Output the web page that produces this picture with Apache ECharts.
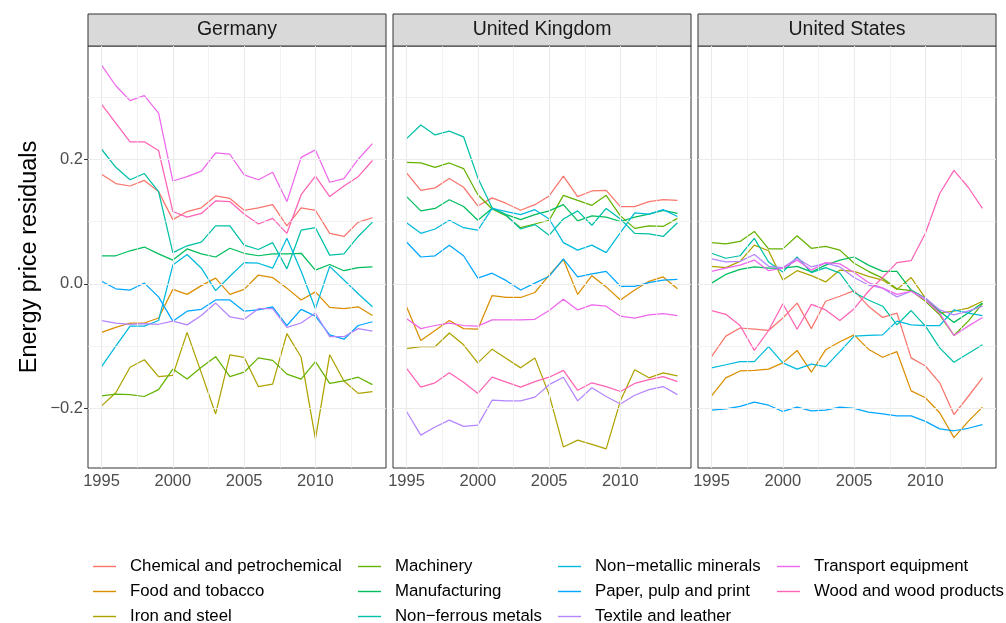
<!DOCTYPE html>
<html>
<head>
<meta charset="utf-8">
<script src="https://cdn.jsdelivr.net/npm/echarts@6/dist/echarts.min.js"></script>
<style>
  html, body { margin: 0; padding: 0; background: #ffffff; }
  #chart { width: 1006px; height: 623px; }
</style>
</head>
<body>
<div id="chart"></div>
<script>
// ---- data -----------------------------------------------------------
const years = [1995, 1996, 1997, 1998, 1999, 2000, 2001, 2002, 2003, 2004,
               2005, 2006, 2007, 2008, 2009, 2010, 2011, 2012, 2013, 2014];

const countries = ['Germany', 'United Kingdom', 'United States'];

const industries = [
  'Chemical and petrochemical', 'Food and tobacco', 'Iron and steel',
  'Machinery', 'Manufacturing', 'Non\u2212ferrous metals',
  'Non\u2212metallic minerals', 'Paper, pulp and print', 'Textile and leather',
  'Transport equipment', 'Wood and wood products'
];

const palette = ['#F8766D', '#DB8E00', '#AEA200', '#64B200', '#00BD5C', '#00C1A7',
                 '#00BADE', '#00A6FF', '#B385FF', '#EF67EB', '#FF63B6'];

// Germany
const deChemical      = [0.176, 0.161, 0.157, 0.166, 0.148, 0.103, 0.116, 0.122, 0.141, 0.137, 0.118, 0.122, 0.127, 0.093, 0.122, 0.118, 0.081, 0.076, 0.099, 0.106];
const deFood          = [-0.078, -0.070, -0.063, -0.063, -0.055, -0.009, -0.017, -0.003, 0.009, -0.017, -0.009, 0.014, 0.010, -0.007, -0.026, -0.013, -0.038, -0.040, -0.037, -0.051];
const deIron          = [-0.196, -0.175, -0.134, -0.122, -0.149, -0.147, -0.078, -0.143, -0.209, -0.114, -0.118, -0.165, -0.161, -0.080, -0.118, -0.249, -0.114, -0.156, -0.176, -0.173];
const deMachinery     = [-0.180, -0.177, -0.178, -0.181, -0.170, -0.137, -0.153, -0.134, -0.117, -0.149, -0.142, -0.119, -0.123, -0.145, -0.153, -0.125, -0.160, -0.156, -0.150, -0.162];
const deManufacturing = [0.045, 0.045, 0.053, 0.059, 0.048, 0.038, 0.056, 0.048, 0.043, 0.057, 0.049, 0.045, 0.048, 0.048, 0.049, 0.022, 0.031, 0.021, 0.026, 0.027];
const deNonFerrous    = [0.216, 0.187, 0.167, 0.177, 0.148, 0.050, 0.061, 0.067, 0.093, 0.093, 0.062, 0.055, 0.066, 0.024, 0.086, 0.090, 0.046, 0.048, 0.076, 0.099];
const deNonMetallic   = [-0.133, -0.100, -0.068, -0.068, -0.059, 0.030, 0.047, 0.025, -0.011, 0.012, 0.034, 0.033, 0.025, 0.073, 0.020, -0.040, 0.028, 0.006, -0.016, -0.037];
const dePaper         = [0.004, -0.008, -0.010, 0.001, -0.021, -0.060, -0.044, -0.041, -0.026, -0.026, -0.044, -0.042, -0.037, -0.067, -0.041, -0.052, -0.082, -0.089, -0.067, -0.061];
const deTextile       = [-0.059, -0.063, -0.065, -0.064, -0.065, -0.060, -0.066, -0.051, -0.031, -0.053, -0.057, -0.040, -0.040, -0.070, -0.063, -0.047, -0.085, -0.085, -0.072, -0.076];
const deTransport     = [0.351, 0.318, 0.294, 0.302, 0.274, 0.165, 0.172, 0.181, 0.210, 0.208, 0.175, 0.167, 0.179, 0.132, 0.203, 0.215, 0.163, 0.169, 0.200, 0.225];
const deWood          = [0.288, 0.258, 0.228, 0.228, 0.214, 0.116, 0.107, 0.113, 0.133, 0.132, 0.112, 0.096, 0.105, 0.081, 0.143, 0.173, 0.140, 0.157, 0.172, 0.198];

// United Kingdom
const ukChemical      = [0.178, 0.150, 0.154, 0.169, 0.155, 0.125, 0.138, 0.129, 0.118, 0.127, 0.141, 0.173, 0.140, 0.149, 0.150, 0.124, 0.124, 0.132, 0.135, 0.134];
const ukFood          = [-0.037, -0.091, -0.075, -0.059, -0.072, -0.073, -0.019, -0.022, -0.022, -0.014, 0.014, 0.039, -0.017, 0.013, -0.005, -0.026, -0.010, 0.004, 0.011, -0.008];
const ukIron          = [-0.104, -0.101, -0.101, -0.079, -0.098, -0.127, -0.105, -0.120, -0.135, -0.119, -0.178, -0.262, -0.251, -0.258, -0.265, -0.188, -0.138, -0.151, -0.143, -0.148];
const ukMachinery     = [0.195, 0.194, 0.187, 0.194, 0.185, 0.143, 0.120, 0.109, 0.090, 0.096, 0.102, 0.142, 0.134, 0.126, 0.142, 0.109, 0.089, 0.093, 0.092, 0.105];
const ukManufacturing = [0.140, 0.117, 0.121, 0.135, 0.124, 0.102, 0.121, 0.111, 0.103, 0.111, 0.117, 0.127, 0.101, 0.109, 0.107, 0.100, 0.107, 0.112, 0.118, 0.113];
const ukNonFerrous    = [0.233, 0.255, 0.239, 0.245, 0.236, 0.170, 0.122, 0.110, 0.088, 0.095, 0.078, 0.104, 0.117, 0.094, 0.121, 0.104, 0.081, 0.080, 0.076, 0.098];
const ukNonMetallic   = [0.098, 0.081, 0.088, 0.102, 0.090, 0.086, 0.121, 0.116, 0.111, 0.119, 0.104, 0.066, 0.054, 0.062, 0.050, 0.082, 0.114, 0.112, 0.119, 0.108];
const ukPaper         = [0.067, 0.043, 0.045, 0.062, 0.045, 0.009, 0.017, 0.005, -0.010, 0.001, 0.012, 0.040, 0.011, 0.016, 0.020, -0.004, -0.004, 0.002, 0.006, 0.007];
const ukTextile       = [-0.205, -0.243, -0.230, -0.219, -0.229, -0.227, -0.187, -0.188, -0.188, -0.182, -0.162, -0.150, -0.188, -0.167, -0.181, -0.193, -0.179, -0.170, -0.165, -0.178];
const ukTransport     = [-0.056, -0.072, -0.067, -0.063, -0.067, -0.068, -0.058, -0.058, -0.058, -0.057, -0.043, -0.025, -0.042, -0.034, -0.036, -0.052, -0.055, -0.050, -0.048, -0.051];
const ukWood          = [-0.136, -0.166, -0.159, -0.143, -0.158, -0.176, -0.150, -0.158, -0.166, -0.157, -0.150, -0.139, -0.171, -0.159, -0.165, -0.173, -0.160, -0.154, -0.149, -0.157];

// United States
const usChemical      = [-0.117, -0.084, -0.071, -0.073, -0.075, -0.055, -0.031, -0.072, -0.028, -0.020, -0.011, -0.036, -0.054, -0.047, -0.119, -0.132, -0.159, -0.210, -0.181, -0.151];
const usFood          = [-0.180, -0.151, -0.140, -0.139, -0.137, -0.127, -0.107, -0.142, -0.106, -0.093, -0.082, -0.105, -0.118, -0.109, -0.172, -0.183, -0.207, -0.247, -0.221, -0.198];
const usIron          = [0.028, 0.026, 0.036, 0.062, 0.053, 0.006, 0.021, 0.013, 0.003, 0.022, 0.020, 0.012, 0.006, -0.009, 0.010, -0.023, -0.047, -0.044, -0.039, -0.028];
const usMachinery     = [0.066, 0.064, 0.068, 0.084, 0.056, 0.056, 0.077, 0.057, 0.060, 0.054, 0.033, 0.020, 0.009, -0.008, -0.011, -0.028, -0.050, -0.083, -0.060, -0.032];
const usManufacturing = [0.001, 0.015, 0.023, 0.027, 0.025, 0.025, 0.028, 0.019, 0.030, 0.038, 0.043, 0.030, 0.020, 0.020, -0.010, -0.023, -0.044, -0.062, -0.047, -0.031];
const usNonFerrous    = [0.049, 0.041, 0.045, 0.073, 0.035, 0.019, 0.043, 0.018, 0.026, 0.017, -0.014, -0.026, -0.036, -0.066, -0.043, -0.068, -0.103, -0.126, -0.112, -0.098];
const usNonMetallic   = [-0.135, -0.130, -0.125, -0.125, -0.101, -0.127, -0.137, -0.129, -0.133, -0.109, -0.084, -0.083, -0.082, -0.060, -0.066, -0.067, -0.067, -0.042, -0.047, -0.051];
const usPaper         = [-0.203, -0.201, -0.197, -0.190, -0.195, -0.205, -0.198, -0.204, -0.203, -0.198, -0.200, -0.206, -0.209, -0.212, -0.212, -0.221, -0.233, -0.236, -0.232, -0.226];
const usTextile       = [0.040, 0.035, 0.036, 0.047, 0.028, 0.026, 0.041, 0.027, 0.033, 0.027, 0.010, -0.002, -0.007, -0.021, -0.012, -0.023, -0.042, -0.050, -0.044, -0.036];
const usTransport     = [0.020, 0.025, 0.030, 0.038, 0.021, 0.025, 0.038, 0.022, 0.034, 0.032, 0.018, 0.002, -0.007, -0.017, -0.012, -0.026, -0.047, -0.083, -0.068, -0.054];
const usWood          = [-0.043, -0.049, -0.067, -0.107, -0.075, -0.032, -0.073, -0.033, -0.042, -0.059, -0.040, -0.012, 0.010, 0.034, 0.037, 0.081, 0.145, 0.182, 0.155, 0.121];

const xBreaks = [1995, 2000, 2005, 2010];
const xMinorBreaks = [1997.5, 2002.5, 2007.5, 2012.5];
const yBreaks = [-0.2, 0, 0.2];
const yMinorBreaks = [-0.3, -0.1, 0.1, 0.3];

// one list per facet, in the same order as `industries`
const panelSeries = [
  [deChemical, deFood, deIron, deMachinery, deManufacturing, deNonFerrous, deNonMetallic, dePaper, deTextile, deTransport, deWood],
  [ukChemical, ukFood, ukIron, ukMachinery, ukManufacturing, ukNonFerrous, ukNonMetallic, ukPaper, ukTextile, ukTransport, ukWood],
  [usChemical, usFood, usIron, usMachinery, usManufacturing, usNonFerrous, usNonMetallic, usPaper, usTextile, usTransport, usWood]
];

// ---- layout -----------------------------------------------------------
const FONT = "'Liberation Sans', Arial, Helvetica, sans-serif";
const panelLeft = [88, 393, 698];
const panelWidth = 298;
const panelTop = 46;
const panelHeight = 422;
const stripTop = 14;
const stripHeight = 32;

// shared scales: data range padded by 5% on each side
const allValues = panelSeries.flat(2);
const lo = Math.min(...allValues), hi = Math.max(...allValues);
const yPad = (hi - lo) * 0.05;
const yMin = lo - yPad, yMax = hi + yPad;
const xPad = (years[years.length - 1] - years[0]) * 0.05;
const xMin = years[0] - xPad, xMax = years[years.length - 1] + xPad;

const fmtY = v => {
  const s = Math.abs(v).toFixed(1);
  return v < -1e-9 ? '\u2212' + s : s;
};

const grids = [], xAxes = [], yAxes = [], series = [], graphics = [];

countries.forEach((country, i) => {
  grids.push({
    left: panelLeft[i], top: panelTop, width: panelWidth, height: panelHeight,
    show: true, borderColor: '#333333', borderWidth: 1, backgroundColor: '#ffffff',
    containLabel: false
  });

  xAxes.push({
    type: 'value', gridIndex: i, min: xMin, max: xMax,
    axisLine: { show: false },
    splitLine: { show: false },
    axisTick: { show: true, length: 4, customValues: xBreaks, lineStyle: { color: '#333333', width: 1 } },
    axisLabel: {
      customValues: xBreaks, color: '#4D4D4D', fontSize: 16.5, fontFamily: FONT, margin: 5,
      formatter: v => String(v)
    }
  });

  yAxes.push({
    type: 'value', gridIndex: i, min: yMin, max: yMax,
    axisLine: { show: false },
    splitLine: { show: false },
    axisTick: { show: i === 0, length: 4, customValues: yBreaks, lineStyle: { color: '#333333', width: 1 } },
    axisLabel: {
      show: i === 0, customValues: yBreaks, color: '#4D4D4D', fontSize: 16.5, fontFamily: FONT,
      margin: 5, formatter: fmtY
    },
    name: i === 0 ? 'Energy price residuals' : '',
    nameLocation: 'middle', nameRotate: 90, nameGap: 46,
    nameTextStyle: { color: '#000000', fontSize: 23.5, fontFamily: FONT }
  });

  // background grid lines of the facet
  const minor = { type: 'solid', color: '#EDEDED', width: 0.7 };
  const major = { type: 'solid', color: '#EBEBEB', width: 1.1 };
  const gridLines = []
    .concat(yMinorBreaks.filter(v => v > yMin && v < yMax).map(v => ({ yAxis: v, lineStyle: minor })))
    .concat(xMinorBreaks.filter(v => v > xMin && v < xMax).map(v => ({ xAxis: v, lineStyle: minor })))
    .concat(yBreaks.map(v => ({ yAxis: v, lineStyle: major })))
    .concat(xBreaks.map(v => ({ xAxis: v, lineStyle: major })));
  series.push({
    type: 'line', name: 'grid-' + i, xAxisIndex: i, yAxisIndex: i, data: [],
    silent: true, z: 1, animation: false,
    markLine: {
      silent: true, symbol: ['none', 'none'], animation: false,
      label: { show: false }, emphasis: { disabled: true },
      data: gridLines
    }
  });

  panelSeries[i].forEach((values, k) => {
    series.push({
      type: 'line', name: industries[k], xAxisIndex: i, yAxisIndex: i,
      data: years.map((yr, j) => [yr, values[j]]),
      showSymbol: false, symbol: 'none', z: 2, animation: false,
      lineStyle: { color: palette[k], width: 1.25 },
      itemStyle: { color: palette[k] },
      emphasis: { disabled: true }
    });
  });

  // facet strip
  graphics.push({
    type: 'group', silent: true,
    children: [
      {
        type: 'rect',
        shape: { x: panelLeft[i], y: stripTop, width: panelWidth, height: stripHeight },
        style: { fill: '#D9D9D9', stroke: '#333333', lineWidth: 1 }
      },
      {
        type: 'text',
        x: panelLeft[i] + panelWidth / 2, y: stripTop + stripHeight / 2,
        style: {
          text: country, fill: '#1A1A1A', fontSize: 19.5, fontFamily: FONT,
          align: 'center', verticalAlign: 'middle',
          textAlign: 'center', textVerticalAlign: 'middle'
        }
      }
    ]
  });
});

// legend: four columns filled top to bottom
const legendColumns = [[0, 1, 2], [3, 4, 5], [6, 7, 8], [9, 10]];
const legendLeft = [88, 353, 553, 772];
const legends = legendColumns.map((idx, c) => ({
  data: idx.map(k => industries[k]),
  left: legendLeft[c], top: 553, height: 90,
  orient: 'vertical', icon: 'rect',
  itemWidth: 23, itemHeight: 1.4, itemGap: 8,
  formatter: name => '{t|' + name + '}',
  textStyle: {
    rich: { t: { fontSize: 16.8, fontFamily: FONT, color: '#000000', lineHeight: 18, padding: [0, 0, 0, 9] } }
  }
}));

const chart = echarts.init(document.getElementById('chart'), null, { renderer: 'canvas' });
chart.setOption({
  backgroundColor: '#ffffff',
  animation: false,
  grid: grids,
  xAxis: xAxes,
  yAxis: yAxes,
  legend: legends,
  graphic: graphics,
  series: series
});
</script>
</body>
</html>
